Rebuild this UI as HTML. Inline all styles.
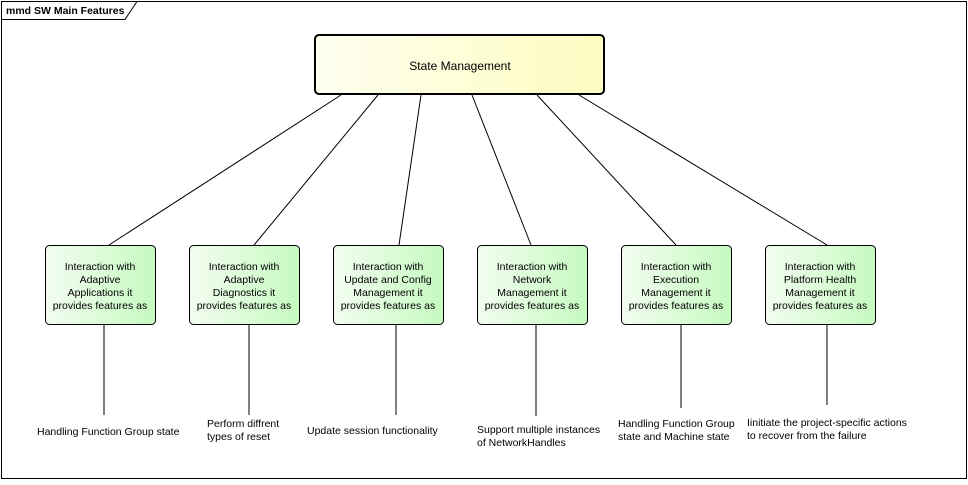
<!DOCTYPE html>
<html><head><meta charset="utf-8"><style>
body{margin:0;background:#fff;width:968px;height:480px;overflow:hidden;font-family:"Liberation Sans",Arial,sans-serif;}
svg text{font-family:"Liberation Sans",Arial,sans-serif;font-size:10.5px;fill:#000;}
</style></head><body>
<svg width="968" height="480" xmlns="http://www.w3.org/2000/svg">
<defs>
<linearGradient id="g" x1="0" y1="0" x2="1" y2="0"><stop offset="0" stop-color="#f2fdf0"/><stop offset="1" stop-color="#c6fac0"/></linearGradient>
<linearGradient id="y" x1="0" y1="0" x2="1" y2="0"><stop offset="0" stop-color="#fffff0"/><stop offset="1" stop-color="#fcfcc0"/></linearGradient>
</defs>
<rect x="1.5" y="1.5" width="965" height="477" fill="#fff" stroke="#000"/>
<path d="M1.5 19.5 H125 L137 1.5" fill="none" stroke="#000"/>
<text x="6" y="14" style="font-weight:bold;font-size:10.5px">mmd SW Main Features</text>
<g stroke="#000" stroke-width="1">
<line x1="341" y1="95" x2="109" y2="245"/>
<line x1="378" y1="95" x2="254" y2="245"/>
<line x1="421" y1="95" x2="399" y2="245"/>
<line x1="472" y1="95" x2="531" y2="245"/>
<line x1="537" y1="95" x2="676" y2="245"/>
<line x1="579" y1="95" x2="827" y2="245"/>
<line x1="104" y1="324" x2="104" y2="415"/>
<line x1="249" y1="324" x2="249" y2="415"/>
<line x1="396" y1="324" x2="396" y2="415"/>
<line x1="536" y1="324" x2="536" y2="416"/>
<line x1="681" y1="324" x2="681" y2="408"/>
<line x1="827" y1="324" x2="827" y2="405"/>
</g>
<rect x="315" y="35" width="289" height="59" rx="4" fill="url(#y)" stroke="#000" stroke-width="2"/>
<text x="460" y="70" text-anchor="middle" style="font-size:12px">State Management</text>
<g fill="url(#g)" stroke="#000">
<rect x="45.5" y="245.5" width="110" height="79" rx="4"/>
<rect x="189.5" y="245.5" width="110" height="79" rx="4"/>
<rect x="333.5" y="245.5" width="110" height="79" rx="4"/>
<rect x="477.5" y="245.5" width="110" height="79" rx="4"/>
<rect x="621.5" y="245.5" width="110" height="79" rx="4"/>
<rect x="765.5" y="245.5" width="110" height="79" rx="4"/>
</g>
<g text-anchor="middle">
<text x="100" y="270">Interaction with</text><text x="100" y="283">Adaptive</text><text x="100" y="296">Applications it</text><text x="100" y="309">provides features as</text>
<text x="244" y="270">Interaction with</text><text x="244" y="283">Adaptive</text><text x="244" y="296">Diagnostics it</text><text x="244" y="309">provides features as</text>
<text x="388" y="270">Interaction with</text><text x="388" y="283">Update and Config</text><text x="388" y="296">Management it</text><text x="388" y="309">provides features as</text>
<text x="532" y="270">Interaction with</text><text x="532" y="283">Network</text><text x="532" y="296">Management it</text><text x="532" y="309">provides features as</text>
<text x="676" y="270">Interaction with</text><text x="676" y="283">Execution</text><text x="676" y="296">Management it</text><text x="676" y="309">provides features as</text>
<text x="820" y="270">Interaction with</text><text x="820" y="283">Platform Health</text><text x="820" y="296">Management it</text><text x="820" y="309">provides features as</text>
</g>
<text x="37" y="435">Handling Function Group state</text>
<text x="207" y="427">Perform diffrent</text><text x="207" y="440">types of reset</text>
<text x="307" y="434">Update session functionality</text>
<text x="477" y="433">Support multiple instances</text><text x="477" y="446">of NetworkHandles</text>
<text x="618" y="427">Handling Function Group</text><text x="618" y="440">state and Machine state</text>
<text x="747" y="426">Iinitiate the project-specific actions</text><text x="747" y="439">to recover from the failure</text>
</svg>
</body></html>
